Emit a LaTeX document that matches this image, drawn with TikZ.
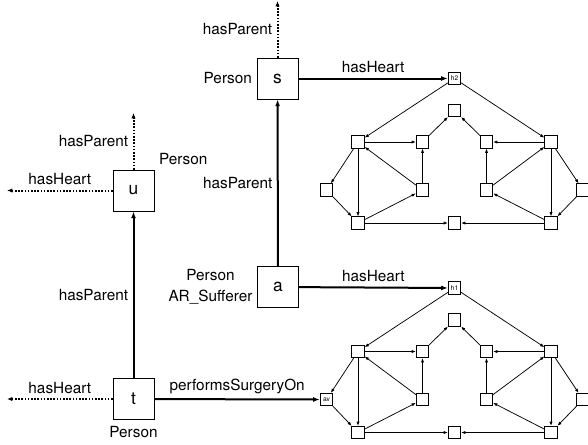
\documentclass[tikz,border=0pt]{standalone}
\usepackage{fontspec}
\setmainfont{TeX Gyre Heros}
\usepackage{tikz}
\usetikzlibrary{arrows.meta}

\tikzset{
	obj/.style={draw, minimum size=30.75pt, inner sep=0pt, line width=0.6pt, font=\fontsize{13}{15}\selectfont},
	hpart/.style={draw, minimum size=9.4pt, inner sep=0pt, line width=0.5pt, font=\fontsize{5}{6}\selectfont},
	role/.style={line width=1.5pt, -{Latex[length=5pt,width=3.6pt]}},
	open/.style={line width=1.5pt, dash pattern=on 1.2pt off 1.2pt, -{Latex[length=4pt,width=3.2pt]}},
	hedge/.style={line width=0.55pt, -{Latex[length=3.2pt,width=2.4pt]}},
}

\begin{document}
\begin{tikzpicture}[x=0.75pt,y=-0.75pt,font=\fontsize{11.5}{15.5}\selectfont]
		\useasboundingbox (0,0) rectangle (588,444);
		\node[obj, label={[label distance=0pt]left:Person}] (s) at (277.5,78.5) {s};
		\node[obj, label={[label distance=0pt]45:Person}] (u) at (133.5,190.5) {u};
		\node[obj, label={[align=center,label distance=0pt]left:Person\\AR\_Sufferer}] (a) at (278,287) {a};
		\node[obj, label={[label distance=1pt]below:Person}] (t) at (133.5,399) {t};
		\coordinate (sUp) at (277.5,1);
		\coordinate (uUp) at (133.5,113);
		\coordinate (uOut) at (7,190.5);
		\coordinate (tOut) at (7,399);
		% the two hearts
		\foreach \h/\y/\w in {h2/78.5/{}, h1/288/av} {
			\node[hpart] (\h) at (454.5,\y) {\h};
			\node[hpart] (\h-top) at (454.5,\y+32) {};
			\node[hpart] (\h-L1) at (358,\y+63.5) {};
			\node[hpart] (\h-L2) at (422.5,\y+63.5) {};
			\node[hpart] (\h-R2) at (486.5,\y+63.5) {};
			\node[hpart] (\h-R1) at (551,\y+63.5) {};
			\node[hpart] (\h-L0) at (326.5,\y+111.5) {\w};
			\node[hpart] (\h-L3) at (422.5,\y+111.5) {};
			\node[hpart] (\h-R3) at (486.5,\y+111.5) {};
			\node[hpart] (\h-R0) at (583,\y+111.5) {};
			\node[hpart] (\h-LB) at (358,\y+144.5) {};
			\node[hpart] (\h-MB) at (454.5,\y+144.5) {};
			\node[hpart] (\h-RB) at (551,\y+144.5) {};
			\draw[hedge] (\h) -- (\h-L1);
			\draw[hedge] (\h) -- (\h-R1);
			\foreach \p/\q in {L1/L2, L2/top, R1/R2, R2/top, L1/L0, L0/LB, L1/LB, L3/L1, L3/L2, LB/L3, LB/MB,
				RB/MB, R3/R1, R3/R2, RB/R3, R1/RB, R1/R0, R0/RB}
				\draw[hedge] (\h-\p) -- (\h-\q);
		}
		\draw[role] (t) -- node[left]{hasParent} (u);
		\draw[role] (a) -- node[left]{hasParent} (s);
		\draw[role] (s) -- node[above]{hasHeart} (h2);
		\draw[role] (a) -- node[above]{hasHeart} (h1);
		\draw[role] (t) -- node[above]{performsSurgeryOn} (h1-L0);
		\draw[open] (s) -- node[left]{hasParent} (sUp);
		\draw[open] (u) -- node[left]{hasParent} (uUp);
		\draw[open] (u) -- node[above]{hasHeart} (uOut);
		\draw[open] (t) -- node[above]{hasHeart} (tOut);
	\end{tikzpicture}
\end{document}
